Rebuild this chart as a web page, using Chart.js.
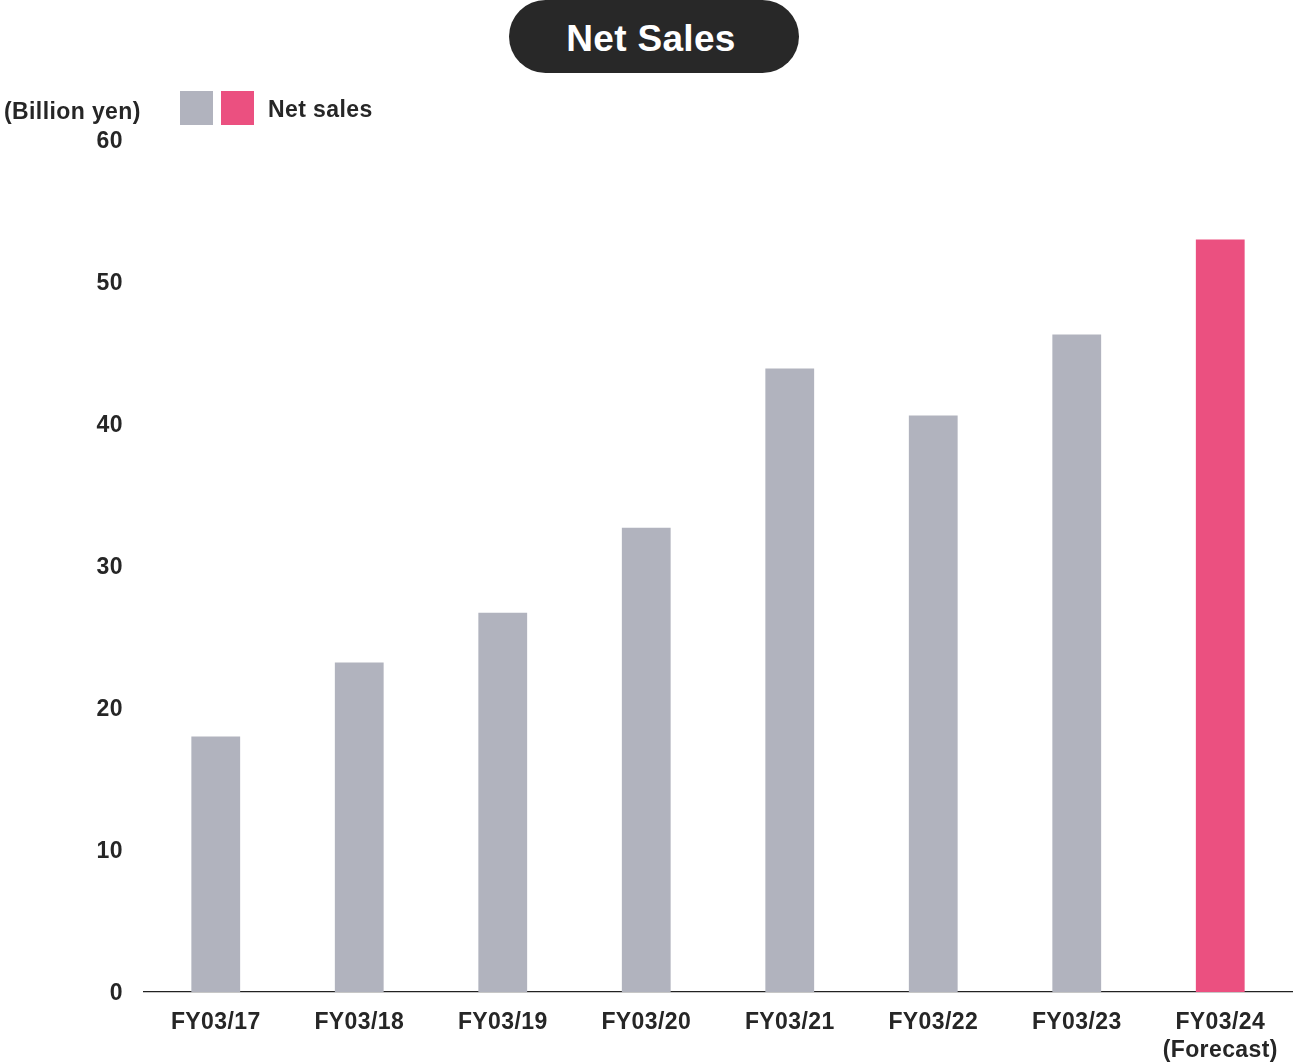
<!DOCTYPE html>
<html>
<head>
<meta charset="utf-8">
<title>Net Sales</title>
<script src="https://cdn.jsdelivr.net/npm/chart.js@4/dist/chart.umd.min.js"></script>
<style>
    html, body {
        margin: 0;
        padding: 0;
        background: #ffffff;
        font-family: "Liberation Sans", Arial, sans-serif;
        color: #262626;
    }

    .wrap {
        position: relative;
        width: 1297px;
        height: 1064px;
    }

    #salesChart {
        position: absolute;
        left: 0;
        top: 0;
    }

    .title-pill {
        position: absolute;
        left: 509px;
        top: 0;
        width: 284px;
        padding-right: 6px;
        height: 73px;
        border-radius: 37px;
        background: #282828;
        color: #ffffff;
        font-weight: bold;
        font-size: 37px;
        letter-spacing: 0.3px;
        line-height: 78px;
        text-align: center;
    }

    .unit-label {
        position: absolute;
        left: 4px;
        top: 97px;
        font-weight: bold;
        font-size: 23px;
        letter-spacing: 0.4px;
        line-height: 28px;
    }

    .legend {
        position: absolute;
        left: 180px;
        top: 91px;
        display: flex;
        align-items: center;
        height: 34px;
    }

    .legend .box {
        width: 33px;
        height: 34px;
        margin-right: 8px;
    }

    .legend .text {
        margin-left: 6px;
        margin-top: 2px;
        font-weight: bold;
        font-size: 23px;
        letter-spacing: 0.4px;
    }
</style>
</head>
<body>

<div class="wrap">
    <canvas id="salesChart" width="1297" height="1064"></canvas>
    <div class="title-pill">Net Sales</div>
    <div class="unit-label">(Billion yen)</div>
    <div class="legend" id="legend"></div>
</div>

<script>

// DATA

const categories = [
    "FY03/17", "FY03/18", "FY03/19", "FY03/20",
    "FY03/21", "FY03/22", "FY03/23", ["FY03/24", "(Forecast)"]
];

const netSales = [18.0, 23.2, 26.7, 32.7, 43.9, 40.6, 46.3, 53.0];

const seriesLabel = "Net sales";

const actualColor = "#b1b3be";
const forecastColor = "#eb5080";

// last bar is the forecast year
const barColors = netSales.map((v, i) =>
    i === netSales.length - 1 ? forecastColor : actualColor
);


// LEGEND (one label, both colours)

function buildLegend() {

    const legend = document.getElementById("legend");

    [actualColor, forecastColor].forEach(c => {
        const box = document.createElement("div");
        box.className = "box";
        box.style.background = c;
        legend.appendChild(box);
    });

    const span = document.createElement("span");
    span.className = "text";
    span.innerText = seriesLabel;
    legend.appendChild(span);

}


// slightly wider lettering for the axis text
const letterSpacingPlugin = {
    id: "letterSpacing",
    beforeDraw(chart) {
        chart.ctx.letterSpacing = "0.4px";
    }
};


// CHART

function initChart() {

    const ctx = document.getElementById("salesChart").getContext("2d");

    const tickFont = {
        family: "'Liberation Sans', Arial, sans-serif",
        size: 23,
        weight: "bold",
        lineHeight: 28 / 23
    };

    new Chart(ctx, {

        type: "bar",

        data: {
            labels: categories,
            datasets: [{
                label: seriesLabel,
                data: netSales,
                backgroundColor: barColors,
                borderWidth: 0,
                categoryPercentage: 1,
                barPercentage: 0.34
            }]
        },

        options: {
            responsive: false,
            animation: false,
            layout: {
                padding: { top: 140, right: 5, bottom: 0, left: 0 }
            },
            plugins: {
                legend: { display: false },
                title: { display: false },
                tooltip: { enabled: false }
            },
            scales: {
                x: {
                    grid: { display: false, drawTicks: false },
                    border: { display: true, color: "#222222", width: 1.2 },
                    ticks: {
                        color: "#262626",
                        font: tickFont,
                        padding: 17,
                        maxRotation: 0,
                        autoSkip: false
                    },
                    afterFit: axis => { axis.height = 72; }
                },
                y: {
                    min: 0,
                    max: 60,
                    grid: { display: false, drawTicks: false },
                    border: { display: false },
                    ticks: {
                        stepSize: 10,
                        color: "#262626",
                        font: tickFont,
                        padding: 21,
                        labelOffset: 2
                    },
                    afterFit: axis => { axis.width = 144; }
                }
            }
        },

        plugins: [letterSpacingPlugin]

    });

}

buildLegend();
initChart();

</script>
</body>
</html>
